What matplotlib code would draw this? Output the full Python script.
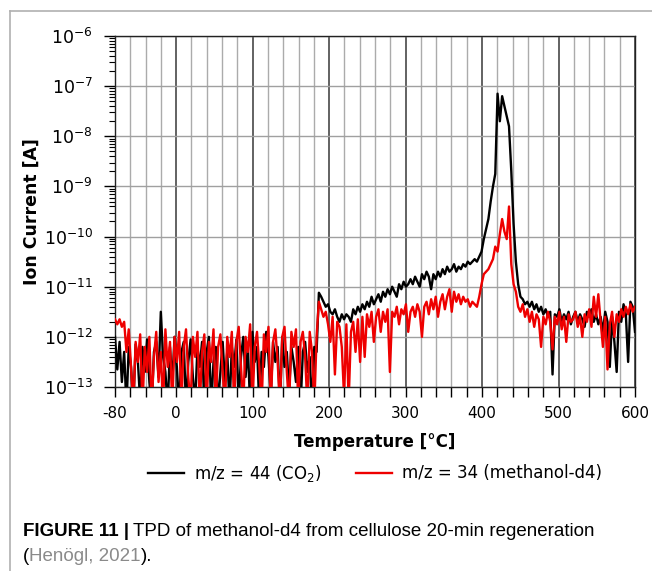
import numpy as np
import matplotlib
matplotlib.use("Agg")
import matplotlib.pyplot as plt
from matplotlib.ticker import FixedLocator, MultipleLocator, LogLocator, NullFormatter
from matplotlib.lines import Line2D

# Temperature ramp (°C), evenly sampled from -80 to 600
temperature = np.linspace(-80, 600, 228)

# log10 of ion current [A], m/z = 44 (CO2)
co2_log_current = [
    -12.0, -12.65, -12.1, -12.9, -12.3, -13.4, -12.2, -12.6, -13.4, -12.15,
    -12.5, -13.3, -12.2, -12.7, -12.05, -12.9, -13.4, -12.3, -12.1, -12.8,
    -11.5, -12.4, -12.7, -13.4, -12.2, -12.9, -12.0, -12.6, -13.4, -12.3,
    -12.1, -13.4, -12.5, -12.05, -12.8, -13.3, -12.2, -12.6, -12.1, -13.4,
    -12.3, -12.0, -13.4, -12.5, -12.2, -13.4, -12.7, -12.1, -12.9, -12.3,
    -13.4, -12.2, -12.6, -12.05, -13.3, -12.4, -12.0, -12.8, -12.2, -13.4,
    -11.9, -12.5, -12.2, -13.4, -12.3, -12.6, -11.9, -12.4, -13.2, -12.1,
    -12.5, -12.2, -13.4, -12.0, -12.6, -12.3, -13.1, -12.2, -12.5, -12.9,
    -12.2, -13.4, -12.3, -12.1, -12.7, -12.4, -13.4, -12.2, -12.3, -11.12,
    -11.2, -11.3, -11.4, -11.35, -11.5, -11.55, -11.45, -11.6, -11.7, -11.55,
    -11.65, -11.55, -11.6, -11.7, -11.45, -11.55, -11.4, -11.5, -11.35, -11.45,
    -11.3, -11.4, -11.2, -11.35, -11.25, -11.15, -11.3, -11.1, -11.2, -11.05,
    -11.15, -11.0, -11.1, -11.2, -10.95, -11.05, -10.9, -11.0, -10.95, -10.85,
    -10.95, -10.8, -10.9, -11.0, -10.75, -10.85, -10.7, -10.8, -11.05, -10.75,
    -10.85, -10.7, -10.8, -10.65, -10.75, -10.6, -10.7, -10.65, -10.55, -10.7,
    -10.6, -10.65, -10.55, -10.6, -10.5, -10.55, -10.5, -10.45, -10.5, -10.4,
    -10.3, -10.05, -9.85, -9.65, -9.3, -9.0, -8.75, -7.15, -7.7, -7.2,
    -7.4, -7.6, -7.8, -8.7, -9.75, -10.5, -10.95, -11.2, -11.25, -11.35,
    -11.3, -11.4, -11.3, -11.45, -11.35, -11.5, -11.4, -11.55, -11.45, -11.6,
    -11.5, -12.75, -11.55, -11.6, -11.45, -11.7, -11.55, -11.65, -11.5, -11.75,
    -11.6, -11.5, -11.7, -11.55, -11.65, -11.8, -11.5, -11.6, -11.45, -11.7,
    -11.55, -11.75, -11.6, -11.9, -11.5, -11.7, -12.6, -11.6, -12.1, -12.7,
    -11.5, -11.7, -11.35, -11.55, -12.5, -11.3, -11.4, -11.9,
]

# log10 of ion current [A], m/z = 34 (methanol-d4)
methanol_log_current = [
    -11.65, -11.75, -11.65, -11.8, -11.7, -12.3, -11.85, -12.6, -13.4, -12.1,
    -12.5, -11.95, -13.4, -12.2, -12.7, -12.0, -13.4, -12.4, -11.9, -12.9,
    -12.3, -13.4, -11.85, -12.6, -12.1, -13.4, -12.0, -12.5, -11.9, -13.3,
    -12.2, -11.85, -12.8, -13.4, -12.0, -12.4, -11.9, -13.4, -12.3, -11.95,
    -13.4, -12.1, -12.5, -11.85, -13.4, -12.2, -11.95, -12.7, -13.4, -12.0,
    -12.4, -11.9, -13.4, -12.1, -11.8, -12.6, -13.4, -12.0, -12.3, -11.75,
    -13.4, -12.2, -11.9, -12.6, -13.4, -11.95, -12.3, -11.8, -13.4, -12.1,
    -11.85, -12.5, -13.4, -12.0, -11.8, -12.7, -13.4, -11.9, -12.2, -11.85,
    -13.4, -12.1, -11.9, -12.4, -13.4, -11.9, -12.3, -13.4, -12.0, -11.3,
    -11.45, -11.6, -11.5, -11.75, -12.1, -11.6, -12.75, -11.7, -11.8, -12.2,
    -13.2, -11.75, -13.3, -11.9, -11.7, -12.3, -11.65, -12.5, -11.6, -12.4,
    -11.55, -11.8, -11.5, -12.1, -11.6, -11.45, -11.9, -11.5, -11.7, -11.45,
    -12.7, -11.5, -11.6, -11.4, -11.75, -11.45, -11.55, -11.35, -11.9, -11.5,
    -11.4, -11.6, -11.35, -11.5, -12.0, -11.4, -11.3, -11.55, -11.25, -11.45,
    -11.2, -11.6, -11.3, -11.15, -11.45, -11.2, -11.05, -11.5, -11.1, -11.3,
    -11.15, -11.35, -11.2, -11.3, -11.25, -11.4, -11.3, -11.35, -11.4, -11.2,
    -10.95, -10.75, -10.7, -10.65, -10.55, -10.45, -10.2, -10.3, -9.95, -9.65,
    -9.9, -10.05, -9.4, -10.55, -10.95, -11.1, -11.4, -11.5, -11.35, -11.6,
    -11.45, -11.7, -11.5, -11.8, -11.55, -11.65, -12.2, -11.6, -11.75, -11.5,
    -11.7, -12.25, -11.6, -11.75, -11.5, -11.85, -11.6, -12.1, -11.55, -11.7,
    -11.65, -11.5, -11.8, -11.6, -12.0, -11.55, -11.7, -11.45, -11.8, -11.2,
    -11.6, -11.15, -11.7, -12.2, -11.6, -12.65, -11.75, -11.5, -12.0, -11.55,
    -11.7, -11.45, -11.6, -11.4, -11.55, -11.35, -11.5, -11.4,
]

x_ticks = [-80, 0, 100, 200, 300, 400, 500, 600]
x_tick_labels = ["-80", "0", "100", "200", "300", "400", "500", "600"]
series_labels = ["m/z = 44 (CO$_2$)", "m/z = 34 (methanol-d4)"]
series_colors = ["black", "#ee0000"]

W, H = 652, 571
fig = plt.figure(figsize=(W / 100, H / 100), dpi=100)

# page frame lines (left and top)
fig.add_artist(Line2D([10 / W, 10 / W], [0, 1 - 11 / H], color="#b0b0b0", lw=1.2))
fig.add_artist(Line2D([10 / W, 1], [1 - 11 / H, 1 - 11 / H], color="#b0b0b0", lw=1.2))

ax = fig.add_axes([115 / W, 1 - 387 / H, 520 / W, 351 / H])

ax.plot(temperature, 10 ** np.array(co2_log_current), color=series_colors[0], lw=1.7,
        label=series_labels[0], zorder=3)
ax.plot(temperature, 10 ** np.array(methanol_log_current), color=series_colors[1], lw=1.7,
        label=series_labels[1], zorder=4)

ax.set_yscale("log")
ax.set_xlim(-80, 600)
ax.set_ylim(1e-13, 1e-6)

ax.xaxis.set_major_locator(FixedLocator(x_ticks))
ax.set_xticklabels(x_tick_labels)
ax.xaxis.set_minor_locator(MultipleLocator(20))
ax.yaxis.set_major_locator(LogLocator(base=10, numticks=20))
ax.yaxis.set_minor_locator(LogLocator(base=10, subs=np.arange(2, 10), numticks=20))
ax.yaxis.set_minor_formatter(NullFormatter())

ax.tick_params(axis="x", which="both", direction="out", length=7, width=1,
               labelsize=11, pad=7)
ax.tick_params(axis="y", which="major", direction="out", length=8, width=1,
               labelsize=12.5, pad=8)
ax.tick_params(axis="y", which="minor", direction="out", length=4, width=0.8)

# grid: dark vertical lines every 100 °C, light ones every 20 °C, light decades
ax.grid(True, which="minor", axis="x", color="#ababab", lw=1.0, zorder=0)
ax.grid(True, which="major", axis="x", color="#383838", lw=1.1, zorder=1)
ax.grid(True, which="major", axis="y", color="#a0a0a0", lw=1.0, zorder=0)
ax.set_axisbelow(True)

for sp in ax.spines.values():
    sp.set_color("#222222")
    sp.set_linewidth(1.0)

ax.set_xlabel("Temperature [°C]", fontsize=12, fontweight="bold", labelpad=8)
ax.set_ylabel("Ion Current [A]", fontsize=12.5, fontweight="bold", labelpad=2)

leg = fig.legend(loc="center", bbox_to_anchor=(375 / W, 1 - 473 / H), ncol=2,
                 frameon=False, fontsize=12, handlelength=2.2, columnspacing=2.0,
                 handletextpad=0.6)

# caption with mixed bold / regular / gray runs
cap_family = ["Liberation Sans Narrow", "Liberation Sans", "DejaVu Sans"]
cap_size = 13.5
renderer = fig.canvas.get_renderer()


def text_runs(x_px, y_px, runs):
    x = x_px
    for s, weight, color, gap in runs:
        x += gap
        t = fig.text(x / W, 1 - y_px / H, s, fontsize=cap_size, family=cap_family,
                     fontweight=weight, color=color, va="baseline", ha="left")
        x += t.get_window_extent(renderer).width


text_runs(23, 536, [("FIGURE 11 |", "bold", "black", 0),
                    ("TPD of methanol-d4 from cellulose 20-min regeneration",
                     "normal", "black", 4)])
text_runs(23, 561, [("(", "normal", "black", 0),
                    ("Henögl, 2021", "normal", "#8a8a8a", 0),
                    (").", "normal", "black", 0)])

fig.savefig("out.png", dpi=100)
